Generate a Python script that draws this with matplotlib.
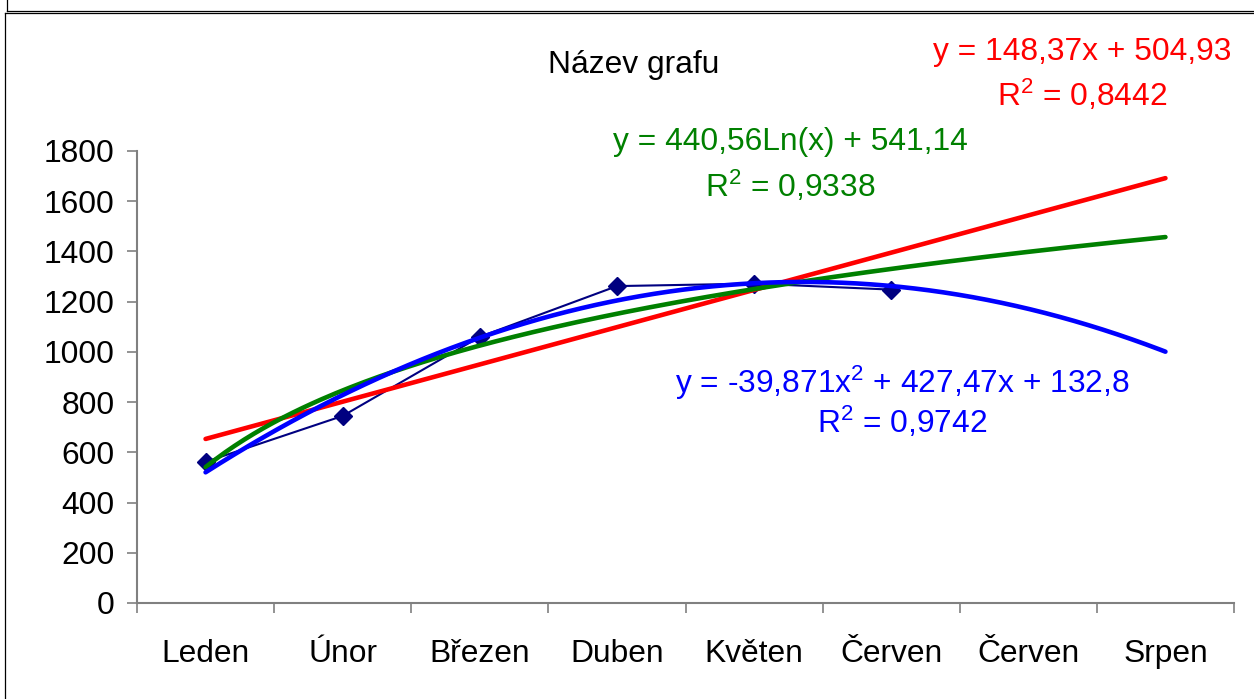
import numpy as np
import matplotlib
matplotlib.use("Agg")
import matplotlib.pyplot as plt
from matplotlib.lines import Line2D

plt.rcParams['font.family'] = ['Liberation Sans', 'DejaVu Sans']
plt.rcParams['mathtext.fontset'] = 'custom'
plt.rcParams['mathtext.rm'] = 'Liberation Sans'
plt.rcParams['mathtext.it'] = 'Liberation Sans'
plt.rcParams['mathtext.default'] = 'regular'

# data
months = ['Leden', 'Únor', 'Březen', 'Duben', 'Květen', 'Červen', 'Červen', 'Srpen']
values = [562, 745, 1060, 1262, 1272, 1248]

# trendline coefficients as printed on the chart
lin_coef = [148.37, 504.93]
log_coef = [440.56, 541.14]
poly_coef = [-39.871, 427.47, 132.8]
lin_label = ['y = 148,37x + 504,93', 'R$^2$ = 0,8442']
log_label = ['y = 440,56Ln(x) + 541,14', 'R$^2$ = 0,9338']
poly_label = ['y = -39,871x$^2$ + 427,47x + 132,8', 'R$^2$ = 0,9742']

W, H = 1254, 699
fig = plt.figure(figsize=(W / 100, H / 100), dpi=100)
ax = fig.add_axes([137 / W, 1 - 603 / H, (1234 - 137) / W, (603 - 151) / H])

x_data = np.arange(1, len(values) + 1)
ax.plot(x_data, values, color='#000080', lw=1.5, marker='D', ms=9,
        markeredgecolor='#000080', zorder=2)

xt = np.linspace(1, len(months), 200)
ax.plot(xt, np.polyval(lin_coef, xt), color='#ff0000', lw=3.3, solid_capstyle='round', zorder=3)
ax.plot(xt, log_coef[0] * np.log(xt) + log_coef[1], color='#008000', lw=3.3,
        solid_capstyle='round', zorder=3)
ax.plot(xt, np.polyval(poly_coef, xt), color='#0000ff', lw=3.3, solid_capstyle='round', zorder=4)

ax.set_xlim(0.5, len(months) + 0.5)
ax.set_ylim(0, 1800)
ax.set_yticks(np.arange(0, 1801, 200))
ax.set_xticks(np.arange(0.5, len(months) + 1, 1))
ax.set_xticklabels([])
ax.set_xticks(np.arange(1, len(months) + 1), minor=True)
ax.set_xticklabels(months, minor=True)

for s in ['top', 'right']:
    ax.spines[s].set_visible(False)
for s in ['left', 'bottom']:
    ax.spines[s].set_color('#808080')
    ax.spines[s].set_linewidth(1.5)
ax.tick_params(axis='y', length=7, width=1.2, color='#808080', labelsize=22.9, pad=9)
ax.tick_params(axis='x', which='major', length=7, width=1.2, color='#808080')
ax.tick_params(axis='x', which='minor', length=0, labelsize=22.9, pad=26)
ax.patch.set_alpha(0)


def ftext(px, py, s, color='black'):
    fig.text(px / W, 1 - py / H, s, color=color, fontsize=22.9, ha='center', va='baseline')


ftext(634, 73, 'Název grafu')
ftext(1082, 60, lin_label[0], '#ff0000')
ftext(1082, 106, lin_label[1], '#ff0000')
ftext(790, 150, log_label[0], '#008000')
ftext(790, 197, log_label[1], '#008000')
ftext(902, 393, poly_label[0], '#0000ff')
ftext(902, 433, poly_label[1], '#0000ff')

# frame lines of the sheet
def fline(x0, y0, x1, y1, lw=0.9):
    fig.add_artist(Line2D([x0 / W, x1 / W], [1 - y0 / H, 1 - y1 / H], color='black', lw=lw))


fline(7, 0, 7, 10.5)
fline(7, 10.5, W, 10.5)
fline(5, 12.5, W, 12.5)
fline(5, 12.5, 5, H)

fig.savefig('out.png', dpi=100)
